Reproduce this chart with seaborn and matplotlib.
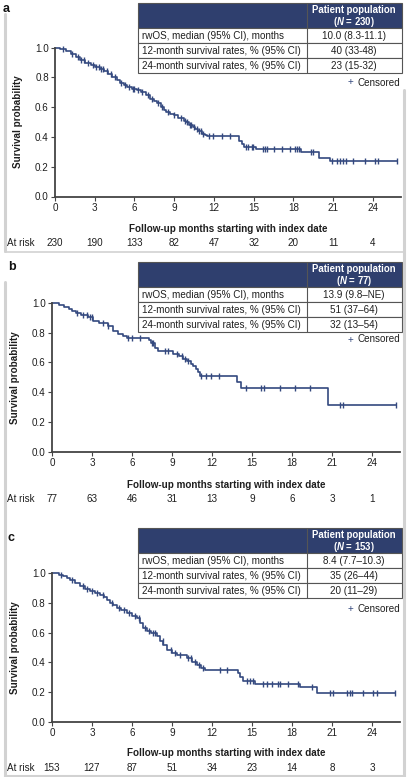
import numpy as np
import pandas as pd
import matplotlib
matplotlib.use('Agg')
import matplotlib.pyplot as plt
import matplotlib.transforms as mtransforms
from matplotlib.patches import Rectangle
import seaborn as sns

# ---- values ----
month_ticks = [0, 3, 6, 9, 12, 15, 18, 21, 24]
surv_ticks = [0.0, 0.2, 0.4, 0.6, 0.8, 1.0]

row_labels = ["rwOS, median (95% CI), months",
              "12-month survival rates, % (95% CI)",
              "24-month survival rates, % (95% CI)"]

# panel a
a_n = 230
a_table = ["10.0 (8.3-11.1)", "40 (33-48)", "23 (15-32)"]
a_at_risk = [230, 190, 133, 82, 47, 32, 20, 11, 4]
a_times = [0.4, 0.8, 1.2, 1.6, 1.9, 2.3, 2.7, 3.0, 3.4, 3.7, 4.0, 4.3, 4.65, 4.9,
           5.2, 5.45, 5.8, 6.2, 6.5, 6.9, 7.2, 7.5, 7.7, 8.0, 8.2, 8.4, 8.7, 8.95,
           9.3, 9.7, 9.9, 10.1, 10.4, 10.6, 10.8, 11.1, 11.3, 11.45, 13.9, 14.1,
           14.3, 15.2, 18.6, 19.9, 20.75]
a_surv = [0.987, 0.974, 0.957, 0.935, 0.914, 0.895, 0.88, 0.868, 0.858, 0.842,
          0.824, 0.803, 0.78, 0.765, 0.748, 0.735, 0.724, 0.713, 0.70, 0.679,
          0.656, 0.64, 0.625, 0.60, 0.583, 0.567, 0.556, 0.545, 0.528, 0.51,
          0.497, 0.483, 0.466, 0.452, 0.438, 0.42, 0.41, 0.404, 0.37, 0.35,
          0.334, 0.317, 0.296, 0.256, 0.238]
a_censor = [0.6, 1.3, 1.7, 2.0, 2.2, 2.5, 2.9, 3.1, 3.3, 3.5, 3.6, 3.9, 4.2, 4.5,
            5.0, 5.3, 5.6, 5.9, 6.0, 6.3, 6.6, 7.0, 7.3, 7.8, 8.1, 8.5, 9.0, 9.5,
            9.8, 10.0, 10.2, 10.3, 10.5, 10.7, 10.9, 11.0, 11.2, 11.6, 11.95,
            12.6, 13.2, 14.4, 14.6, 14.85, 14.97, 15.7, 15.85, 16.0, 16.5, 17.1,
            17.7, 18.1, 18.3, 18.45, 19.3, 19.45, 20.9, 21.26, 21.5, 21.76, 22.0,
            22.5, 23.4, 24.15, 24.4, 25.8]

# panel b
b_n = 77
b_table = ["13.9 (9.8\u2013NE)", "51 (37\u201364)", "32 (13\u201354)"]
b_at_risk = [77, 63, 46, 31, 13, 9, 6, 3, 1]
b_times = [0.55, 0.9, 1.3, 1.5, 1.8, 2.2, 2.7, 3.1, 3.5, 4.2, 4.6, 4.97, 5.3, 5.6,
           7.3, 7.45, 7.7, 7.97, 9.1, 9.5, 9.8, 10.1, 10.4, 10.6, 10.8, 10.95,
           11.1, 13.9, 14.15, 20.7]
b_surv = [0.987, 0.974, 0.961, 0.948, 0.934, 0.92, 0.906, 0.88, 0.866, 0.843,
          0.815, 0.79, 0.776, 0.765, 0.748, 0.732, 0.70, 0.676, 0.66, 0.642,
          0.625, 0.609, 0.592, 0.575, 0.555, 0.535, 0.512, 0.467, 0.427, 0.315]
b_censor = [1.85, 2.35, 2.6, 2.85, 3.0, 3.85, 4.22, 5.72, 5.98, 6.6, 7.48, 7.6,
            8.48, 8.73, 9.35, 9.73, 9.98, 10.23, 11.2, 11.55, 11.9, 12.5, 14.55,
            15.65, 15.9, 17.1, 18.2, 19.35, 21.6, 21.85, 25.8]

# panel c
c_n = 153
c_table = ["8.4 (7.7\u201310.3)", "35 (26\u201344)", "20 (11\u201329)"]
c_at_risk = [153, 127, 87, 51, 34, 23, 14, 8, 3]
c_times = [0.5, 0.85, 1.1, 1.35, 1.7, 2.1, 2.5, 2.85, 3.2, 3.6, 3.9, 4.1, 4.35,
           4.6, 4.85, 5.2, 5.6, 6.0, 6.35, 6.6, 6.85, 7.1, 7.4, 7.85, 8.1, 8.35,
           8.6, 9.0, 9.35, 10.1, 10.5, 10.85, 11.2, 11.48, 13.98, 14.1, 14.3,
           15.23, 18.6, 19.85]
c_surv = [0.99, 0.979, 0.968, 0.956, 0.935, 0.912, 0.895, 0.878, 0.866, 0.855,
          0.84, 0.82, 0.80, 0.783, 0.766, 0.75, 0.732, 0.715, 0.698, 0.665,
          0.631, 0.61, 0.595, 0.575, 0.545, 0.515, 0.485, 0.465, 0.447, 0.429,
          0.405, 0.384, 0.362, 0.348, 0.325, 0.30, 0.276, 0.256, 0.231, 0.191]
c_censor = [0.7, 1.5, 2.3, 2.6, 3.0, 3.4, 3.8, 4.5, 5.0, 5.4, 5.8, 6.2, 6.5, 7.0,
            7.3, 7.6, 7.75, 8.3, 8.9, 9.2, 9.6, 10.2, 10.4, 10.7, 11.0, 11.35,
            12.6, 13.1, 14.6, 14.85, 15.1, 15.85, 16.1, 16.48, 16.98, 17.1, 17.73,
            18.48, 19.5, 20.85, 21.1, 22.1, 22.35, 22.5, 23.35, 24.1, 24.35, 25.7]

# ---- style ----
W, H = 407, 777
CURVE = '#34497f'
NAVY = '#2f3f6e'
TXT = '#1e1e1e'
XMAX = 26.1

sns.set_style('ticks')
plt.rcParams['font.family'] = ['Liberation Sans', 'DejaVu Sans']
plt.rcParams['mathtext.fontset'] = 'custom'
plt.rcParams['mathtext.it'] = 'Liberation Sans:italic:bold'
FS = 7.1

fig = plt.figure(figsize=(W / 100, H / 100), dpi=100)
ov = fig.add_axes([0, 0, 1, 1], zorder=5)
ov.set_xlim(0, W)
ov.set_ylim(H, 0)
ov.axis('off')
ov.patch.set_visible(False)

# light grey frame lines
frame = '#d2d2d2'
ov.plot([4.5, 4.5], [14, 251], color=frame, lw=2.2)
ov.plot([4.5, 4.5], [282, 777], color=frame, lw=2.2)
ov.plot([403.5, 403.5], [90, 777], color=frame, lw=2.2)
ov.plot([4.5, 403.5], [251.5, 251.5], color=frame, lw=1.2)
ov.plot([4.5, 403.5], [776, 776], color=frame, lw=1.5)


def km_frame(times, surv, end):
    return pd.DataFrame({'t': [0.0] + times + [end],
                         's': [1.0] + surv + [surv[-1]]})


def surv_at(times, surv, x):
    idx = np.searchsorted(times, x, side='right')
    return [1.0 if i == 0 else surv[i - 1] for i in idx]


def draw_table(top, n, values, cens_y):
    x0, xm, x1 = 138, 306.5, 401.5
    hh, rh = 25, 15
    ov.add_patch(Rectangle((x0, top), x1 - x0, hh, facecolor=NAVY,
                           edgecolor='#555555', lw=0.8))
    ov.text((xm + x1) / 2, top + 7.0, "Patient population", color='white',
            fontsize=6.9, fontweight='bold', ha='center', va='center')
    ov.text((xm + x1) / 2, top + 18.6, r"($\it{N}$ = %d)" % n, color='white',
            fontsize=6.9, fontweight='bold', ha='center', va='center')
    for i, (lab, val) in enumerate(zip(row_labels, values)):
        y = top + hh + i * rh
        ov.add_patch(Rectangle((x0, y), x1 - x0, rh, facecolor='white',
                               edgecolor='#555555', lw=0.8))
        ov.text(x0 + 4, y + rh / 2 + 0.3, lab, fontsize=FS, color=TXT,
                ha='left', va='center')
        ov.text((xm + x1) / 2, y + rh / 2 + 0.3, val, fontsize=FS, color=TXT,
                ha='center', va='center')
    ov.plot([xm, xm], [top, top + hh + 3 * rh], color='#555555', lw=0.8)
    ov.text(350, cens_y, "+", color=CURVE, fontsize=FS, ha='center', va='center')
    ov.text(400.5, cens_y, "Censored", color=TXT, fontsize=FS, ha='right',
            va='center')


panels = [
    dict(letter='a', box=(55, 47.5, 400.8, 196.5), lab=(3, 9), times=a_times,
         surv=a_surv, censor=a_censor, risk=a_at_risk, risk_y=242.7, xlab=-0.185,
         n=a_n, table=a_table, top=3, cens_y=82.5),
    dict(letter='b', box=(52, 303, 400, 451.7), lab=(8, 267), times=b_times,
         surv=b_surv, censor=b_censor, risk=b_at_risk, risk_y=499.3, xlab=-0.19,
         n=b_n, table=b_table, top=262, cens_y=339.5),
    dict(letter='c', box=(52, 573.2, 400, 721.7), lab=(8, 538), times=c_times,
         surv=c_surv, censor=c_censor, risk=c_at_risk, risk_y=768.3, xlab=-0.179,
         n=c_n, table=c_table, top=528, cens_y=609),
]

for p in panels:
    l, t, r, b = p['box']
    ax = fig.add_axes([l / W, 1 - b / H, (r - l) / W, (b - t) / H])
    ax.patch.set_visible(False)
    df = km_frame(p['times'], p['surv'], p['censor'][-1])
    sns.lineplot(data=df, x='t', y='s', drawstyle='steps-post', color=CURVE,
                 lw=1.2, estimator=None, sort=False, ax=ax, clip_on=False)
    cens = pd.DataFrame({'t': p['censor'],
                         's': surv_at(p['times'], p['surv'], p['censor'])})
    sns.scatterplot(data=cens, x='t', y='s', marker='|', s=16, color=CURVE,
                    linewidth=1.0, ax=ax, clip_on=False)
    ax.set_xlim(0, XMAX)
    ax.set_ylim(0, 1.0)
    ax.set_xticks(month_ticks)
    ax.set_yticks(surv_ticks)
    ax.set_yticklabels([f"{v:.1f}" for v in surv_ticks])
    sns.despine(ax=ax)
    for s in ['left', 'bottom']:
        ax.spines[s].set_color('#444444')
        ax.spines[s].set_linewidth(1.3)
    ax.tick_params(length=3, width=0.8, labelsize=FS, pad=1.5,
                   colors='#444444', labelcolor=TXT)
    ax.set_xlabel("Follow-up months starting with index date", fontsize=FS,
                  fontweight='bold', color=TXT)
    ax.xaxis.set_label_coords(0.5, p['xlab'])
    ax.set_ylabel("Survival probability", fontsize=FS, fontweight='bold',
                  color=TXT)
    ax.yaxis.set_label_coords(-0.092, 0.5)

    trans = mtransforms.blended_transform_factory(ax.transData, ov.transData)
    for m, v in zip(month_ticks, p['risk']):
        ax.text(m, p['risk_y'], str(v), transform=trans, fontsize=FS,
                color=TXT, ha='center', va='center', clip_on=False)
    ov.text(7, p['risk_y'], "At risk", fontsize=FS, color=TXT, ha='left',
            va='center')
    ov.text(p['lab'][0], p['lab'][1], p['letter'], fontsize=9,
            fontweight='bold', color='#111111', ha='left', va='center')
    draw_table(p['top'], p['n'], p['table'], p['cens_y'])

fig.savefig('out.png', dpi=100)
